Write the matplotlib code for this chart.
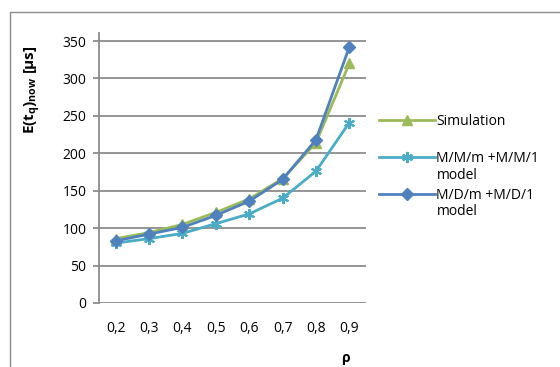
import matplotlib
matplotlib.use("Agg")
import matplotlib.pyplot as plt
from matplotlib.patches import Rectangle

rho_labels = ["0,2", "0,3", "0,4", "0,5", "0,6", "0,7", "0,8", "0,9"]
simulation = [86, 94, 105, 121, 139, 166, 214, 320]
mm_model = [80, 86, 93, 106, 119, 140, 176, 241]
md_model = [83, 92, 101, 117, 136, 165, 218, 342]

plt.rcParams["font.family"] = ["Open Sans", "DejaVu Sans"]
plt.rcParams["mathtext.fontset"] = "custom"
plt.rcParams["mathtext.rm"] = "Open Sans:bold"
plt.rcParams["mathtext.it"] = "Open Sans:bold"
plt.rcParams["mathtext.bf"] = "Open Sans:bold"

fig = plt.figure(figsize=(5.6, 3.67), dpi=100)
fig.patches.append(Rectangle((10 / 560, -0.1), 1.2, 1 - 12 / 367 + 0.1,
                             transform=fig.transFigure, fill=False,
                             edgecolor="#8c8c8c", linewidth=1.0))

ax = fig.add_axes([99 / 560, 64 / 367, 267 / 560, 270 / 367])
x = list(range(len(rho_labels)))

ax.plot(x, simulation, color="#9bbb59", linewidth=2, marker="^", markersize=7,
        label="Simulation")
ax.plot(x, mm_model, color="#4bacc6", linewidth=2, marker=(6, 2, 0), markersize=8,
        markeredgewidth=1.5, label="M/M/m +M/M/1")
ax.plot(x, md_model, color="#4f81bd", linewidth=2, marker="D", markersize=6,
        label="M/D/m +M/D/1")

ax.set_xlim(-0.5, len(rho_labels) - 0.5)
ax.set_ylim(0, 360.7)
ax.set_yticks(range(0, 351, 50))
ax.set_xticks(x)
ax.set_xticklabels(rho_labels)
ax.yaxis.grid(True, color="#8c8c8c", linewidth=1.3)
ax.set_axisbelow(True)
for s in ["top", "right", "bottom"]:
    ax.spines[s].set_visible(False)
ax.spines["left"].set_color("#8c8c8c")
ax.spines["left"].set_linewidth(1.3)
ax.tick_params(axis="y", length=4, width=1.3, color="#8c8c8c", pad=5, labelsize=10)
ax.tick_params(axis="x", length=0, pad=13, labelsize=10)

fig.text(33 / 560, 1 - 90 / 367, r"E(t$_q$)$_{now}$ [µs]", rotation=90,
         ha="center", va="center", fontsize=11, fontweight="bold")
fig.text(345 / 560, 1 - 358 / 367, "ρ", ha="center", va="center",
         fontsize=10, fontweight="bold")

fig.legend(loc="upper left", bbox_to_anchor=(372 / 560, 1 - 107 / 367),
           frameon=False, fontsize=10, handlelength=4.0, handletextpad=0.1,
           labelspacing=1.58, borderpad=0)
for yy in [175, 211]:
    fig.text(437 / 560, 1 - yy / 367, "model", ha="left", va="center", fontsize=10)

fig.savefig("out.png", dpi=100)
